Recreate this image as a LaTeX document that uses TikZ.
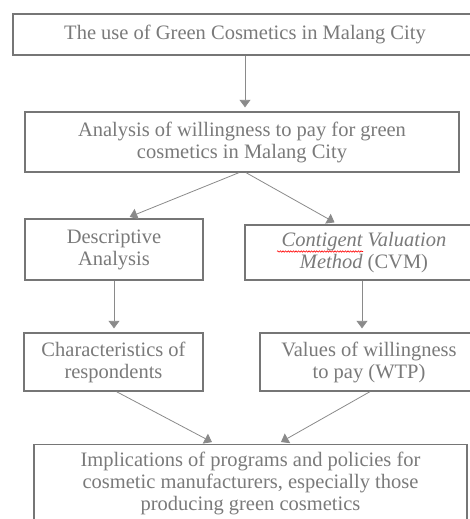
\documentclass[tikz,border=0pt]{standalone}
\usepackage{fontspec}
\setmainfont{Liberation Serif}
\usetikzlibrary{arrows.meta,calc,decorations.pathmorphing}
\definecolor{fcline}{HTML}{8A8A8A}
\definecolor{fcbox}{HTML}{767676}
\definecolor{fctext}{HTML}{7A7A7A}
\tikzset{
  box/.style   = {rectangle, draw=fcbox, line width=1.3pt, fill=white,
                  text=fctext, font=\fontsize{20.5}{22}\selectfont,
                  align=center, inner sep=0pt},
  ar/.style    = {-{Triangle[length=7.5pt,width=11pt]}, draw=fcline,
                  line width=0.8pt, shorten >=4pt},
  spell/.style = {draw=red, line width=0.6pt, decorate,
                  decoration={snake, amplitude=0.7pt, segment length=2.6pt}},
}

\begin{document}
\begin{tikzpicture}[x=1pt,y=-1pt]
  \path[use as bounding box, clip] (0,0) rectangle (470,519);

  % --- top of the chart
  \node[box, minimum width=464pt, minimum height=41pt] (use) at (245,34.5)
    {The use of Green Cosmetics in Malang City};
  \node[box, minimum width=434pt, minimum height=60pt] (wtp) at (242,142)
    {Analysis of willingness to pay for green\\cosmetics in Malang City};

  % --- the two branches
  \node[box, minimum width=178pt, minimum height=61pt] (desc) at (114,249.5)
    {Descriptive\\Analysis};
  \node[box, minimum width=238pt, minimum height=55pt] (cvm) at (364,252.5)
    {\textit{Contigent Valuation}\\\textit{Method} (CVM)};
  \node[box, minimum width=179pt, minimum height=58pt] (resp) at (113.5,362)
    {Characteristics of\\respondents};
  \node[box, minimum width=218pt, minimum height=58pt] (val) at (369,362)
    {Values of willingness\\to pay (WTP)};

  % --- outcome
  \node[box, anchor=north, minimum width=433pt, minimum height=77pt] (impl)
    at (250.5,444)
    {Implications of programs and policies for\\cosmetic manufacturers, especially those\\producing green cosmetics};

  % spell-check mark under the first word
  \draw[spell] ($(cvm.center)+(-87,-1)$) -- ($(cvm.center)+(-1,-1)$);

  % --- arrows
  \draw[ar] (use.south) -- (use.south |- wtp.north);
  \draw[ar] ([xshift=-3pt]wtp.south) -- ([xshift=12pt]desc.north);
  \draw[ar] ([xshift=4pt]wtp.south) -- ([xshift=-26pt]cvm.north);
  \draw[ar] (desc.south) -- (desc.south |- resp.north);
  \draw[ar] ([xshift=-2pt]cvm.south) -- ([xshift=-2pt]cvm.south |- val.north);
  \draw[ar] ([xshift=3pt]resp.south) -- ([xshift=-35pt]impl.north);
  \draw[ar] ([xshift=1pt]val.south) -- ([xshift=27pt]impl.north);
\end{tikzpicture}
\end{document}
